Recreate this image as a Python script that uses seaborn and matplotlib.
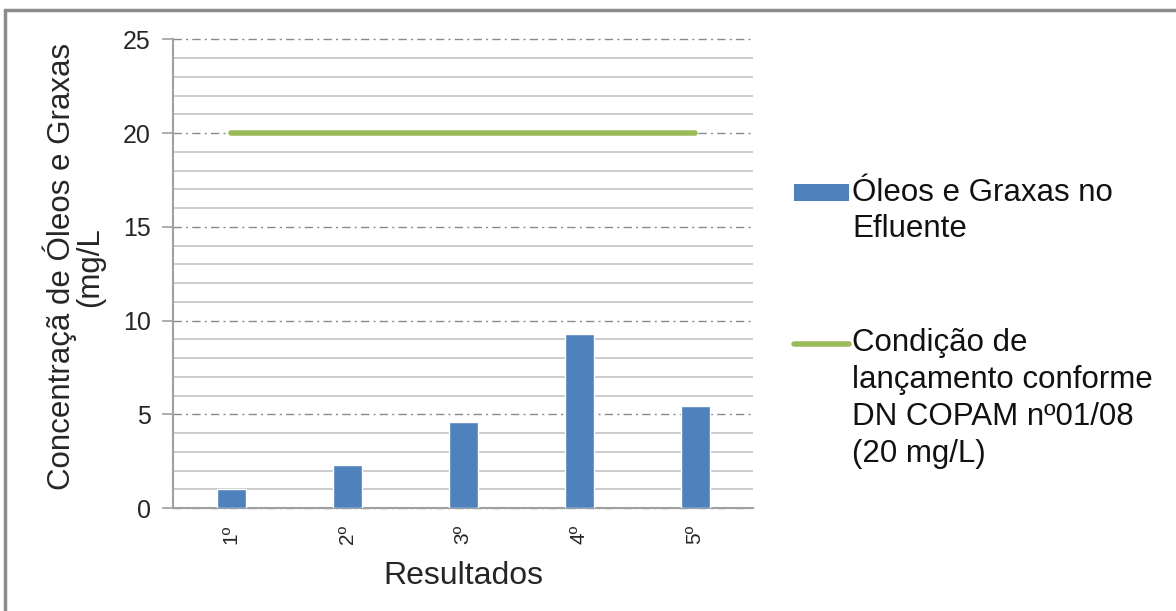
import numpy as np
import pandas as pd
import matplotlib
matplotlib.use("Agg")
import matplotlib.pyplot as plt
import seaborn as sns
from matplotlib.patches import Patch
from matplotlib.lines import Line2D
from matplotlib.ticker import MultipleLocator

# data
resultados = ["1º", "2º", "3º", "4º", "5º"]
oleos_graxas = [1.0, 2.3, 4.6, 9.3, 5.45]
limite_copam = [20, 20, 20, 20, 20]

sns.set_theme(style="white")
plt.rcParams['font.family'] = ['Liberation Sans', 'DejaVu Sans']

df = pd.DataFrame({"Resultados": resultados,
                   "oleos": oleos_graxas,
                   "limite": limite_copam})

fig = plt.figure(figsize=(11.76, 6.11), dpi=100)
ax = fig.add_axes([173 / 1176, 1 - 508 / 611, 580 / 1176, 468.5 / 611])

blue = "#4F81BD"
green = "#9BBB59"

sns.barplot(data=df, x="Resultados", y="oleos", color=blue, width=0.25,
            saturation=1, ax=ax, zorder=3)
sns.lineplot(data=df, x="Resultados", y="limite", color=green, linewidth=4,
             solid_capstyle="round", ax=ax, zorder=4)

ax.set_ylim(0, 25)
ax.set_xlim(-0.5, 4.5)
ax.yaxis.set_major_locator(MultipleLocator(5))
ax.yaxis.set_minor_locator(MultipleLocator(1))

# gridlines like the spreadsheet: minor solid, major dash-dot
ax.grid(which="minor", axis="y", color="#C8C8C8", linewidth=1.3, linestyle="-", zorder=0)
ax.grid(which="major", axis="y", color="#8A8A8A", linewidth=1.0,
        linestyle=(0, (6, 3, 1.5, 3)), zorder=1)
ax.set_axisbelow(True)
for gl in ax.get_ygridlines():
    gl.set_clip_on(False)

for s in ["top", "right"]:
    ax.spines[s].set_visible(False)
for s in ["left", "bottom"]:
    ax.spines[s].set_color("#A0A0A0")
    ax.spines[s].set_linewidth(1.5)

ax.tick_params(axis="y", which="major", direction="out", length=8, width=1.2,
               color="#A0A0A0", labelsize=18, pad=8, left=True)
ax.tick_params(axis="y", which="minor", length=0)
ax.tick_params(axis="x", length=0, labelsize=15, pad=12, labelrotation=90)

ax.set_xlabel("Resultados", fontsize=23, labelpad=12)
ax.set_ylabel("Concentraçã de Óleos e Graxas\n(mg/L", fontsize=22.5,
              linespacing=0.9, labelpad=13)
ax.yaxis.label.set_y(0.515)

# legend: one box per entry, key moved up to the first text line
leg_kw = dict(loc="center left", frameon=False, fontsize=22.5, handlelength=1.75,
              handletextpad=0.12, borderaxespad=0, borderpad=0, handleheight=0.45)
leg1 = fig.legend([Patch(facecolor=blue, edgecolor="none")],
                  ["Óleos e Graxas no\nEfluente"],
                  bbox_to_anchor=(794 / 1176, 1 - 211 / 611), **leg_kw)
leg2 = fig.legend([Line2D([0], [0], color=green, linewidth=4)],
                  ["Condição de\nlançamento conforme\nDN COPAM nº01/08\n(20 mg/L)"],
                  bbox_to_anchor=(794 / 1176, 1 - 398.5 / 611), **leg_kw)

line_pt = 37.7 * 72 / 100  # text line step in points
for leg, nlines in ((leg1, 2), (leg2, 4)):
    for t in leg.get_texts():
        t.set_color("#111111")
        t.set_linespacing(1.29)
    shift = (nlines - 1) / 2 * line_pt
    h = leg.legend_handles[0]
    if isinstance(h, Line2D):
        h.set_ydata(np.asarray(h.get_ydata()) + shift)
    else:
        h.set_y(h.get_y() + shift)

# outer chart border (top and left visible in the crop)
fig.add_artist(Line2D([5 / 1176, 5 / 1176], [0, 1 - 10 / 611], color="#8C8C8C",
                      linewidth=2.5, transform=fig.transFigure))
fig.add_artist(Line2D([5 / 1176, 1], [1 - 10 / 611, 1 - 10 / 611], color="#8C8C8C",
                      linewidth=2.5, transform=fig.transFigure))

fig.savefig("out.png", dpi=100)
